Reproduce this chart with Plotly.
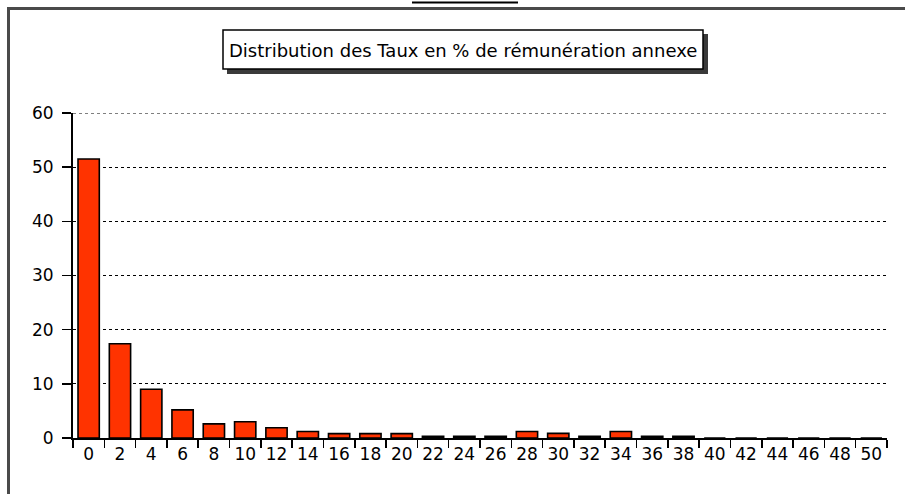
import plotly.graph_objects as go

categories = [str(v) for v in range(0, 52, 2)]
values = [51.5, 17.4, 9.0, 5.2, 2.6, 3.0, 1.9, 1.2, 0.8, 0.8, 0.8, 0.3, 0.3, 0.3,
          1.2, 0.85, 0.3, 1.2, 0.3, 0.3, 0, 0, 0, 0, 0, 0]
y_ticks = [0, 10, 20, 30, 40, 50, 60]
title_text = "Distribution des Taux en % de rémunération annexe"

W, H = 905, 494
L, R, T, B = 73, 18, 113, 56
PW, PH = W - L - R, H - T - B

def px(x):
    return (x - L) / PW

def py(y):
    return (H - B - y) / PH

FONT = "DejaVu Sans"

fig = go.Figure()
fig.add_trace(go.Bar(
    x=categories, y=values,
    marker=dict(color="#FF3300", line=dict(color="black", width=1.6)),
    width=0.68,
))

shapes = [
    # outer frame (top and left)
    dict(type="line", xref="paper", yref="paper", x0=px(7), x1=px(906), y0=py(8.5), y1=py(8.5),
         line=dict(color="#4a4a4a", width=3)),
    dict(type="line", xref="paper", yref="paper", x0=px(8.5), x1=px(8.5), y0=py(7), y1=py(495),
         line=dict(color="#4a4a4a", width=3)),
    # header underline
    dict(type="line", xref="paper", yref="paper", x0=px(412), x1=px(518), y0=py(2.5), y1=py(2.5),
         line=dict(color="black", width=2)),
    # title box shadow
    dict(type="rect", xref="paper", yref="paper", x0=px(227), x1=px(708), y0=py(34), y1=py(74),
         fillcolor="#3a3a3a", line=dict(width=0)),
    # title box
    dict(type="rect", xref="paper", yref="paper", x0=px(223), x1=px(703), y0=py(30), y1=py(69),
         fillcolor="white", line=dict(color="black", width=1.5)),
    # top gridline at 60 (edge of plot area)
    dict(type="line", xref="paper", yref="y", x0=0, x1=1, y0=60, y1=60, layer="below",
         line=dict(color="black", width=1, dash="dot")),
]

fig.add_annotation(
    x=px(463), y=py(50), xref="paper", yref="paper",
    text=title_text, showarrow=False,
    font=dict(family=FONT, size=18, color="black"),
    xanchor="center", yanchor="middle",
)

fig.update_layout(
    width=W, height=H,
    margin=dict(l=L, r=R, t=T, b=B, autoexpand=False),
    paper_bgcolor="white", plot_bgcolor="white",
    showlegend=False,
    shapes=shapes,
    bargap=0.32,
    font=dict(family=FONT, size=17, color="black"),
)
fig.update_xaxes(
    type="category", range=[-0.5, 25.5], automargin=False,
    tickson="boundaries", ticks="outside", ticklen=8, tickwidth=1.5, tickcolor="black",
    showline=True, linecolor="black", linewidth=2,
    showgrid=False, zeroline=False,
    tickfont=dict(family=FONT, size=17, color="black"),
)
fig.update_yaxes(
    range=[0, 60], tickvals=y_ticks, automargin=False,
    ticks="outside", ticklen=9, tickwidth=1.5, tickcolor="black",
    showline=True, linecolor="black", linewidth=2,
    showgrid=True, gridcolor="black", gridwidth=1, griddash="dot",
    zeroline=False,
    ticklabelstandoff=5,
    tickfont=dict(family=FONT, size=17, color="black"),
)

fig.write_html(
    "out.html",
    config={"displayModeBar": False, "staticPlot": True},
    post_script="document.body.style.margin='0';document.body.style.overflow='hidden';",
)
